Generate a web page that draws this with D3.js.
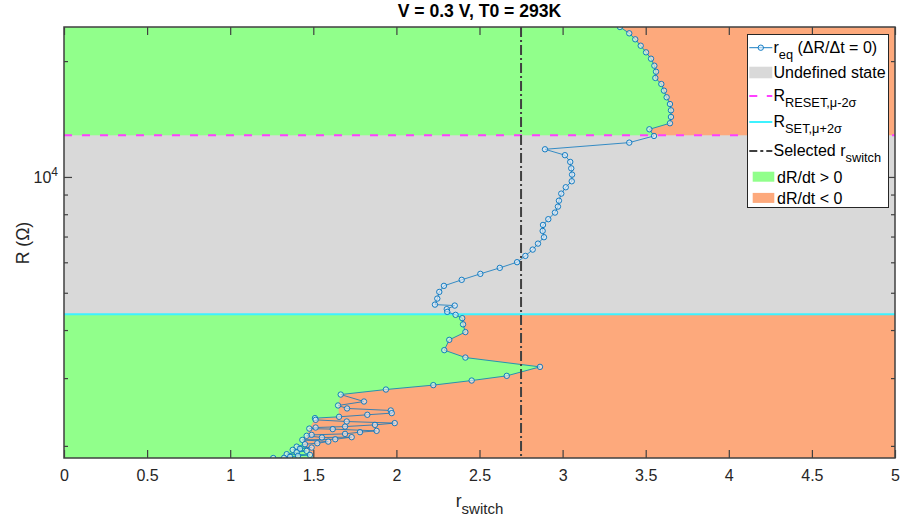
<!DOCTYPE html>
<html>
<head>
<meta charset="utf-8">
<script src="https://cdn.jsdelivr.net/npm/d3@7"></script>
<style>
  body { margin: 0; background: #fff; }
  text { font-family: "Liberation Sans", Arial, Helvetica, sans-serif; }
</style>
</head>
<body>
<svg id="chart" width="900" height="524"></svg>
<script>
// Equilibrium resistance curve r_eq (dR/dt = 0): switching ratio and resistance (Ω)
const reqSwitch = [
  3.345, 3.401, 3.437, 3.470, 3.502, 3.532, 3.552, 3.562, 3.558, 3.594,
  3.610, 3.626, 3.646, 3.652, 3.652, 3.646, 3.522, 3.550, 3.401, 2.894,
  3.014, 3.046, 3.052, 3.057, 3.055, 3.019, 2.992, 2.978, 2.972, 2.954,
  2.914, 2.882, 2.880, 2.888, 2.852, 2.820, 2.776, 2.726, 2.622, 2.505,
  2.393, 2.286, 2.258, 2.246, 2.232, 2.351, 2.303, 2.306, 2.356, 2.396,
  2.401, 2.415, 2.318, 2.288, 2.415, 2.864, 2.664, 2.453, 2.222, 1.937,
  1.665, 1.805, 1.649, 1.703, 1.966, 1.972, 1.825, 1.655, 1.510, 1.514,
  1.701, 1.990, 1.871, 1.691, 1.514, 1.476, 1.617, 1.881, 1.781, 1.691,
  1.490, 1.460, 1.552, 1.731, 1.632, 1.434, 1.590, 1.524, 1.450, 1.400,
  1.490, 1.420, 1.376, 1.460, 1.400, 1.340, 1.480, 1.408, 1.360, 1.324,
  1.259
];
const reqR = [
  24527, 23620, 22790, 21930, 21080, 20290, 19460, 18770, 18080, 17440,
  16760, 16110, 15470, 14900, 14320, 13790, 13300, 12780, 12280, 11800,
  11390, 10940, 10530, 10140, 9745, 9401, 9050, 8675, 8374, 8079,
  7766, 7503, 7239, 6972, 6710, 6474, 6234, 6004, 5803, 5599,
  5402, 5211, 5025, 4829, 4658, 4631, 4533, 4460, 4381, 4295,
  4139, 3952, 3772, 3547, 3393, 3209, 3041, 2957, 2877, 2802,
  2719, 2608, 2547, 2502, 2472, 2433, 2409, 2380, 2361, 2337,
  2314, 2292, 2268, 2245, 2232, 2218, 2211, 2188, 2171, 2149,
  2136, 2124, 2103, 2107, 2081, 2073, 2052, 2032, 2020, 1991,
  1980, 1965, 1953, 1941, 1924, 1903, 1895, 1884, 1873, 1862,
  1860
];

// Sign-change frontier of dR/dt below the SET threshold
const frontierSwitch = [2.395, 2.396, 2.401, 2.415, 2.318, 2.288, 2.415, 2.864, 2.664, 2.453,
  2.222, 1.937, 1.665, 1.649, 1.655, 1.510, 1.476, 1.460, 1.434, 1.450, 1.500];
const frontierR = [4398, 4295, 4139, 3952, 3772, 3547, 3393, 3209, 3041, 2957,
  2877, 2802, 2719, 2547, 2380, 2361, 2218, 2124, 2073, 1980, 1860];

// Thresholds and selected switching ratio
const R_RESET = 12830;   // R_RESET, μ-2σ
const R_SET = 4398;      // R_SET, μ+2σ
const rSelected = 2.75;

// Axes
const rDomain = [0, 5];
const RDomain = [1860, 24530];
const xTicks = [0, 0.5, 1, 1.5, 2, 2.5, 3, 3.5, 4, 4.5, 5];
const yMajorTicks = [10000];
const yMinorTicks = [2000, 3000, 4000, 5000, 6000, 7000, 8000, 9000, 20000];

const legendLabels = ["Undefined state", "dR/dt > 0", "dR/dt < 0"];

const COL = {
  green: "#91ff8b", orange: "#fda97c", gray: "#d9d9d9",
  magenta: "#ff40ff", cyan: "#3df2ff", blue: "#0072bd",
  dash: "#404040", axis: "#404040", text: "#262626"
};

const L = 64, R = 895, T = 27, B = 458;
const svg = d3.select("#chart");
const x = d3.scaleLinear(rDomain, [L, R]);
const y = d3.scaleLog(RDomain, [B, T]);

svg.append("defs").append("clipPath").attr("id", "plotClip")
  .append("rect").attr("x", L).attr("y", T).attr("width", R - L).attr("height", B - T);

const plot = svg.append("g").attr("clip-path", "url(#plotClip)");

// Background: dR/dt < 0 everywhere, then dR/dt > 0 regions left of the frontier
plot.append("rect").attr("x", L).attr("y", T).attr("width", R - L).attr("height", B - T)
  .attr("fill", COL.orange);

const topCount = reqR.findIndex(v => v < R_RESET) + 1;
const topPoly = [[x(0), y(RDomain[1])]]
  .concat(d3.range(topCount).map(i => [x(reqSwitch[i]), y(reqR[i])]))
  .concat([[x(0), y(reqR[topCount - 1])]]);
plot.append("polygon").attr("points", topPoly.map(p => p.join(",")).join(" "))
  .attr("fill", COL.green).attr("stroke", COL.green).attr("stroke-width", 0.5);

const lowPoly = [[x(0), y(R_SET)]]
  .concat(frontierSwitch.map((r, i) => [x(r), y(frontierR[i])]))
  .concat([[x(0), y(RDomain[0])]]);
plot.append("polygon").attr("points", lowPoly.map(p => p.join(",")).join(" "))
  .attr("fill", COL.green).attr("stroke", COL.green).attr("stroke-width", 0.5);

// Undefined state band
plot.append("rect").attr("x", L).attr("width", R - L)
  .attr("y", y(R_RESET)).attr("height", y(R_SET) - y(R_RESET))
  .attr("fill", COL.gray);

// Threshold lines
plot.append("line").attr("x1", L).attr("x2", R).attr("y1", y(R_SET)).attr("y2", y(R_SET))
  .attr("stroke", COL.cyan).attr("stroke-width", 2);
plot.append("line").attr("x1", L).attr("x2", R).attr("y1", y(R_RESET)).attr("y2", y(R_RESET))
  .attr("stroke", COL.magenta).attr("stroke-width", 2).attr("stroke-dasharray", "8,10");

// Equilibrium curve
const pts = reqSwitch.map((r, i) => [r, reqR[i]]);
plot.append("path").datum(pts)
  .attr("d", d3.line().x(d => x(d[0])).y(d => y(d[1])))
  .attr("fill", "none").attr("stroke", COL.blue).attr("stroke-width", 0.9).attr("stroke-opacity", 0.85);
plot.append("g").selectAll("circle").data(pts).join("circle")
  .attr("cx", d => x(d[0])).attr("cy", d => y(d[1])).attr("r", 2.7)
  .attr("fill", "rgba(225,240,255,0.6)").attr("stroke", COL.blue).attr("stroke-width", 0.9);

// Selected switching ratio
plot.append("line").attr("x1", x(rSelected)).attr("x2", x(rSelected)).attr("y1", T).attr("y2", B)
  .attr("stroke", COL.dash).attr("stroke-width", 2).attr("stroke-dasharray", "10,3,2,3");

// Axes
const axisStyle = g => {
  g.select(".domain").remove();
  g.selectAll(".tick line").attr("stroke", COL.axis).attr("stroke-width", 1.2);
  g.selectAll(".tick text").attr("fill", COL.text).attr("font-size", 16)
    .style("font-family", '"Liberation Sans", Arial, sans-serif');
};
svg.append("g").attr("transform", `translate(0,${B})`)
  .call(d3.axisBottom(x).tickValues(xTicks).tickSizeInner(-8).tickSizeOuter(0).tickPadding(12)
    .tickFormat(d3.format("~g")))
  .call(axisStyle);
svg.append("g").attr("transform", `translate(0,${T})`)
  .call(d3.axisTop(x).tickValues(xTicks).tickSizeInner(-8).tickSizeOuter(0).tickFormat(""))
  .call(axisStyle);
const yMajor = svg.append("g").attr("transform", `translate(${L},0)`)
  .call(d3.axisLeft(y).tickValues(yMajorTicks).tickSizeInner(-8).tickSizeOuter(0).tickPadding(6)
    .tickFormat(() => "10"))
  .call(axisStyle);
yMajor.selectAll(".tick text").append("tspan").attr("dy", "-0.55em").attr("font-size", 12).text("4");
svg.append("g").attr("transform", `translate(${L},0)`)
  .call(d3.axisLeft(y).tickValues(yMinorTicks).tickSizeInner(-4).tickSizeOuter(0).tickFormat(""))
  .call(axisStyle);
svg.append("g").attr("transform", `translate(${R},0)`)
  .call(d3.axisRight(y).tickValues(yMajorTicks).tickSizeInner(-8).tickSizeOuter(0).tickFormat(""))
  .call(axisStyle);
svg.append("g").attr("transform", `translate(${R},0)`)
  .call(d3.axisRight(y).tickValues(yMinorTicks).tickSizeInner(-4).tickSizeOuter(0).tickFormat(""))
  .call(axisStyle);

svg.append("rect").attr("x", L).attr("y", T).attr("width", R - L).attr("height", B - T)
  .attr("fill", "none").attr("stroke", COL.axis).attr("stroke-width", 1.5);

// Title and axis labels
svg.append("text").attr("x", (L + R) / 2).attr("y", 17).attr("text-anchor", "middle")
  .attr("font-size", 17.6).attr("font-weight", "bold").attr("fill", "#000")
  .text("V = 0.3 V, T0 = 293K");

const xl = svg.append("text").attr("x", (L + R) / 2).attr("y", 507).attr("text-anchor", "middle")
  .attr("font-size", 17.6).attr("fill", COL.text);
xl.append("tspan").text("r");
xl.append("tspan").attr("dy", 7).attr("font-size", 15).text("switch");

svg.append("text").attr("transform", "translate(29,243) rotate(-90)").attr("text-anchor", "middle")
  .attr("font-size", 17.6).attr("fill", COL.text).text("R (Ω)");

// Legend
const lg = svg.append("g");
lg.append("rect").attr("x", 747.5).attr("y", 34.5).attr("width", 141).attr("height", 173)
  .attr("fill", "#fff").attr("stroke", "#262626").attr("stroke-width", 1);

const lx0 = 749.3, lx1 = 772.3, tx = 773.5;
function legText(yb, main, sub, tail) {
  const t = lg.append("text").attr("x", tx).attr("y", yb).attr("font-size", 16).attr("fill", "#000");
  t.append("tspan").text(main);
  if (sub) t.append("tspan").attr("dy", 6).attr("font-size", 12.8).text(sub);
  if (tail) t.append("tspan").attr("dy", sub ? -6 : 0).text(tail);
  return t;
}
// r_eq
lg.append("line").attr("x1", lx0).attr("x2", lx1).attr("y1", 47.7).attr("y2", 47.7)
  .attr("stroke", COL.blue).attr("stroke-width", 0.9);
lg.append("circle").attr("cx", (lx0 + lx1) / 2).attr("cy", 47.7).attr("r", 2.7)
  .attr("fill", "rgba(225,240,255,0.6)").attr("stroke", COL.blue).attr("stroke-width", 0.9);
legText(52.5, "r", "eq", " (ΔR/Δt = 0)");
// Undefined state
lg.append("rect").attr("x", lx0).attr("y", 66.7).attr("width", lx1 - lx0).attr("height", 11.6).attr("fill", COL.gray);
legText(78, legendLabels[0]);
// R_RESET
lg.append("line").attr("x1", lx0).attr("x2", lx1).attr("y1", 96).attr("y2", 96)
  .attr("stroke", COL.magenta).attr("stroke-width", 2).attr("stroke-dasharray", "8,9.5");
legText(101, "R", "RESET,μ-2σ");
// R_SET
lg.append("line").attr("x1", lx0).attr("x2", lx1).attr("y1", 122).attr("y2", 122)
  .attr("stroke", COL.cyan).attr("stroke-width", 2);
legText(127, "R", "SET,μ+2σ");
// Selected r_switch
lg.append("line").attr("x1", lx0).attr("x2", lx1).attr("y1", 151).attr("y2", 151)
  .attr("stroke", COL.dash).attr("stroke-width", 2).attr("stroke-dasharray", "8,3,3,3");
legText(156, "Selected r", "switch");
// dR/dt regions
lg.append("rect").attr("x", 752.7).attr("y", 171.7).attr("width", 21.6).attr("height", 10).attr("fill", COL.green);
lg.append("text").attr("x", 777).attr("y", 182.5).attr("font-size", 16).attr("fill", "#000").text(legendLabels[1]);
lg.append("rect").attr("x", 752.7).attr("y", 192.9).attr("width", 21.6).attr("height", 10).attr("fill", COL.orange);
lg.append("text").attr("x", 777).attr("y", 203.5).attr("font-size", 16).attr("fill", "#000").text(legendLabels[2]);
</script>
</body>
</html>
